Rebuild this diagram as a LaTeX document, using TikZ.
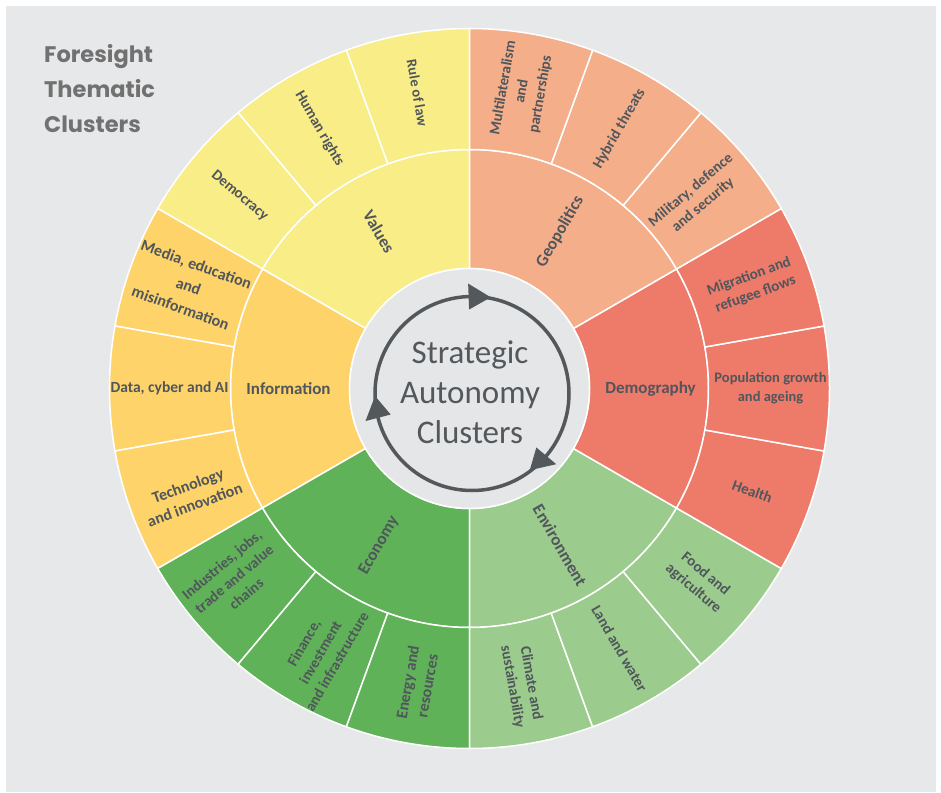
\documentclass[tikz,border=0pt]{standalone}
\usepackage{fontspec}
\setmainfont{Carlito}
\newfontfamily\titlefont{Poppins}
\definecolor{panelC}{HTML}{E7E8E9}
\definecolor{hubC}{HTML}{E5E6E8}
\definecolor{valuesC}{HTML}{F8ED87}
\definecolor{geoC}{HTML}{F4AE8A}
\definecolor{demoC}{HTML}{EE7A6A}
\definecolor{envC}{HTML}{9BCB8D}
\definecolor{econC}{HTML}{5FB258}
\definecolor{infoC}{HTML}{FED46A}
\definecolor{labelC}{HTML}{50565B}
\definecolor{ringC}{HTML}{52585B}
\definecolor{titleC}{HTML}{717171}
\newcommand\annsec[5]{%
  \filldraw[fill=#1, draw=white, line width=1.5pt]
    (#2:#4) arc[start angle=#2, end angle=#3, radius=#4]
    -- (#3:#5) arc[start angle=#3, end angle=#2, radius=#5] -- cycle;}
\tikzset{
  sublab/.style={font=\fontsize{15}{19}\selectfont\bfseries, text=labelC, align=center, inner sep=0pt},
  bigsub/.style={font=\fontsize{16}{20}\selectfont\bfseries},
  clulab/.style={font=\fontsize{17}{20}\selectfont\bfseries, text=labelC, inner sep=0pt},
  titlelab/.style={font=\titlefont\bfseries\fontsize{22.5}{35}\selectfont, text=titleC, anchor=base west, inner sep=0pt}
}
\begin{document}
\begin{tikzpicture}[x=1pt,y=1pt]
\useasboundingbox (-469.5,-403.5) rectangle (471.5,388.5);
\fill[white] (-469.5,-403.5) rectangle (471.5,388.5);
\fill[panelC] (-463.5,-403.5) rectangle (466.5,382.5);

% title
\node[titlelab] (t1) at (-425.5,325.5) {Foresight};
\node[titlelab] (t2) at (-425.5,290.5) {Thematic};
\node[titlelab] (t3) at (-425.5,255.5) {Clusters};

% sectors
\foreach \a/\c in {90/valuesC,150/infoC,210/econC,270/envC,330/demoC,30/geoC}{
  \pgfmathsetmacro\b{\a+60}
  \annsec{\c}{\a}{\b}{120}{239}
  \foreach \k in {0,1,2}{
    \pgfmathsetmacro\s{\a+20*\k}
    \pgfmathsetmacro\e{\a+20*\k+20}
    \annsec{\c}{\s}{\e}{239}{360}
  }
}
% hub
\filldraw[fill=hubC, draw=white, line width=1.5pt] (0,0) circle[radius=120];

% cluster labels
\node[clulab, rotate=-60] (values) at (120:181) {Values};
\node[clulab, rotate=60] (geo) at (60:181) {Geopolitics};
\node[clulab] (demo) at (0:181) {Demography};
\node[clulab, rotate=-60] (env) at (300:181) {Environment};
\node[clulab, rotate=60] (econ) at (240:181) {Economy};
\node[clulab] (info) at (180:181) {Information};

% sub labels
\node[sublab, rotate=-80, font=\fontsize{14.5}{19}\selectfont\bfseries] (rule) at (100:300) {Rule of law};
\node[sublab, rotate=-60] (human) at (120:300) {Human rights};
\node[sublab, rotate=-40] (democ) at (140:300) {Democracy};
\node[sublab, rotate=-20, font=\fontsize{16}{23}\selectfont\bfseries] (media) at (160:299) {Media, education\\and\\misinformation};
\node[sublab, font=\fontsize{15.5}{19}\selectfont\bfseries] (data) at (180:300) {Data, cyber and AI};
\node[sublab, bigsub, rotate=20] (tech) at (201:298) {Technology\\and innovation};
\node[sublab, rotate=40] (indus) at (219:303) {Industries, jobs,\\trade and value\\chains};
\node[sublab, rotate=60] (fin) at (240.5:303) {Finance,\\investment\\and infrastructure};
\node[sublab, bigsub, rotate=80] (energy) at (260:300) {Energy and\\resources};
\node[sublab, rotate=-80] (climate) at (280:301) {Climate and\\sustainability};
\node[sublab, rotate=-60] (land) at (300:300) {Land and water};
\node[sublab, rotate=-40] (food) at (320:300) {Food and\\agriculture};
\node[sublab, rotate=-20] (health) at (340:301) {Health};
\node[sublab, font=\fontsize{14.5}{19}\selectfont\bfseries] (pop) at (0:301) {Population growth\\and ageing};
\node[sublab, rotate=20] (migr) at (20:301) {Migration and\\refugee flows};
\node[sublab, rotate=40] (milit) at (40:297) {Military, defence\\and security};
\node[sublab, rotate=60] (hybrid) at (60:300) {Hybrid threats};
\node[sublab, rotate=80] (multi) at (80:302) {Multilateralism\\and\\partnerships};

% arrow ring
\begin{scope}[shift={(2.5,-5)}]
  \draw[ringC, line width=3.5pt] (0,0) circle[radius=97];
  \fill[ringC] (92:84) -- (92:110) -- (79:98) -- cycle;
  \fill[ringC] (194.5:84) -- (194.5:110) -- (181.5:97) -- cycle;
  \fill[ringC] (-40:84) -- (-40:110) -- (-53:96) -- cycle;
\end{scope}
\node[font=\fontsize{33}{40}\selectfont, text=ringC, align=center, inner sep=0pt] (hubtext) at (0.5,-4) {Strategic\\Autonomy\\Clusters};
\end{tikzpicture}
\end{document}
